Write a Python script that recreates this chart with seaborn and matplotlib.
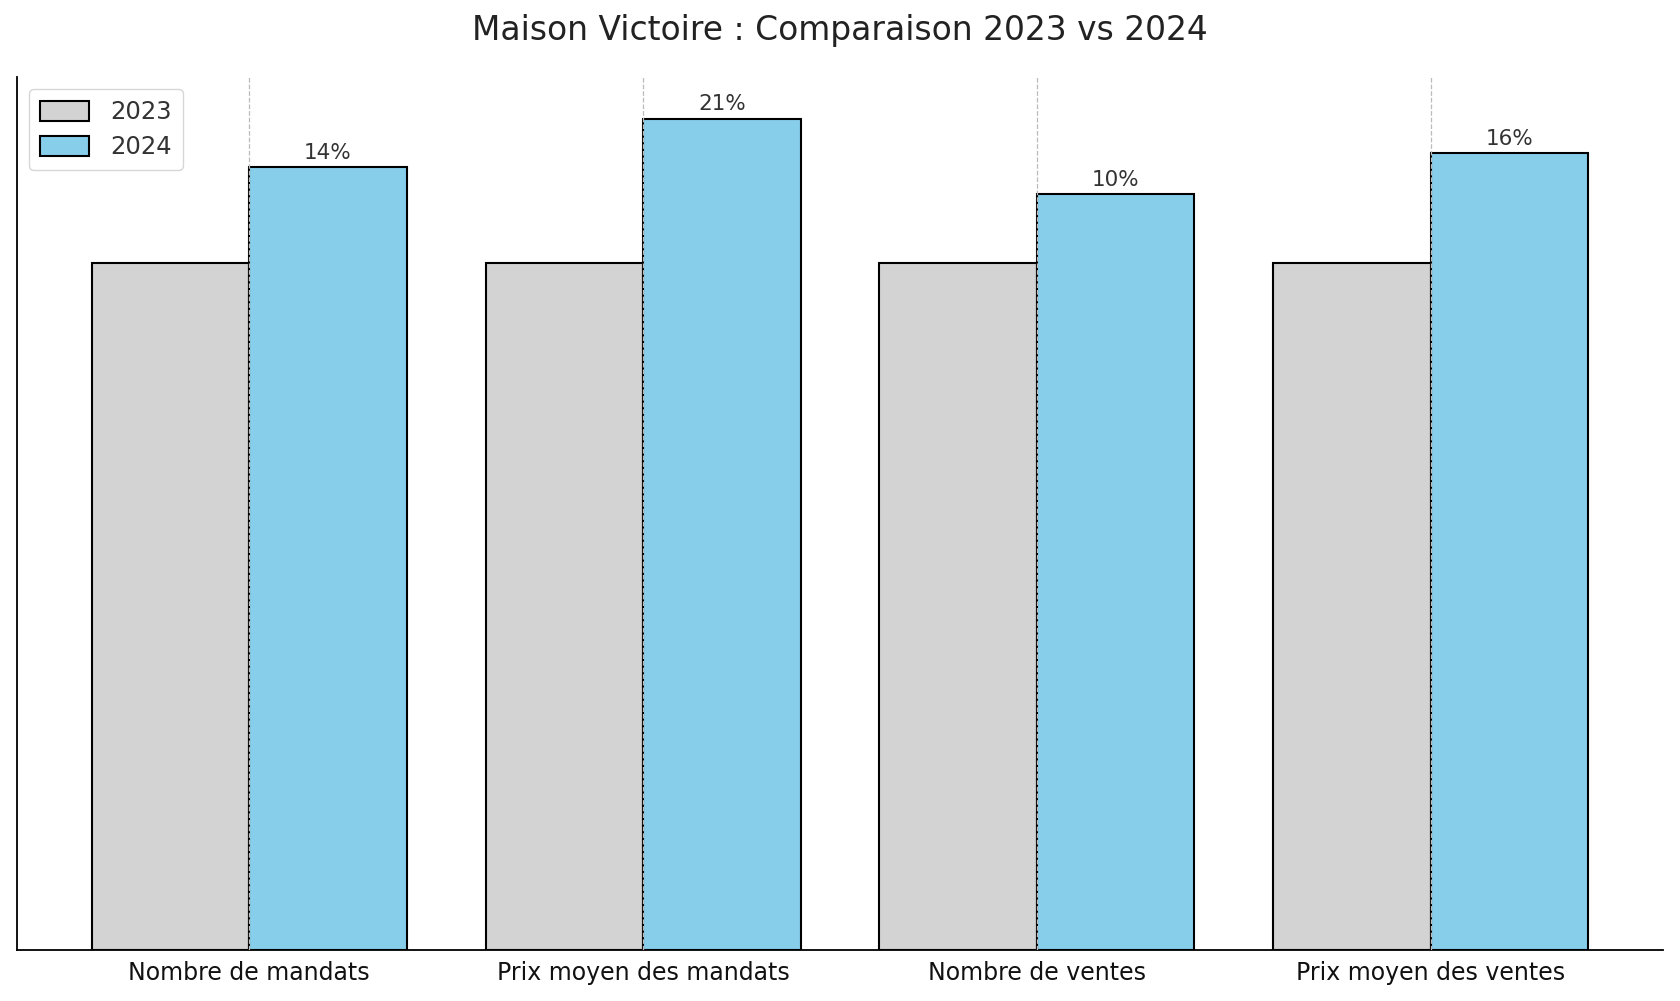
import matplotlib
matplotlib.use("Agg")
import matplotlib.pyplot as plt
import seaborn as sns
import pandas as pd

categories = ["Nombre de mandats", "Prix moyen des mandats", "Nombre de ventes", "Prix moyen des ventes"]
values_2023 = [100, 100, 100, 100]
values_2024 = [114, 121, 110, 116]
labels_pct = ["14%", "21%", "10%", "16%"]
years = ["2023", "2024"]

df = pd.DataFrame({
    "cat": categories * 2,
    "val": values_2023 + values_2024,
    "year": [years[0]] * 4 + [years[1]] * 4,
})

sns.set_style("white")
plt.rcParams['font.family'] = ['DejaVu Sans']

fig, ax = plt.subplots(figsize=(16.8, 10.01), dpi=100)
sns.barplot(data=df, x="cat", y="val", hue="year", order=categories, hue_order=years,
            palette={"2023": "lightgray", "2024": "skyblue"}, edgecolor="black",
            linewidth=1.5, width=0.8, ax=ax, errorbar=None, saturation=1)

ax.set_xlim(-0.59, 3.59)
ax.set_ylim(0, max(values_2024) * 1.05)
ax.set_yticks([])
ax.set_xlabel("")
ax.set_ylabel("")
ax.tick_params(axis="x", labelsize=17, length=0, pad=8, labelcolor="#111111")
ax.xaxis.grid(True, linestyle="--", color="#bbbbbb", linewidth=0.9)
ax.set_axisbelow(False)
for s in ["top", "right"]:
    ax.spines[s].set_visible(False)
for s in ["left", "bottom"]:
    ax.spines[s].set_color("black")
    ax.spines[s].set_linewidth(1.3)

bars24 = ax.containers[1]
for rect, lab in zip(bars24, labels_pct):
    ax.annotate(lab, (rect.get_x() + rect.get_width() / 2, rect.get_height()),
                xytext=(0, 3), textcoords="offset points", ha="center", va="bottom",
                fontsize=15.5, color="#333333")

leg = ax.legend(loc="upper left", fontsize=17.5, frameon=True, handlelength=2.0,
                handleheight=0.9, borderpad=0.45, labelspacing=0.45, handletextpad=0.9)
leg.get_frame().set_edgecolor("#cccccc")
for t in leg.get_texts():
    t.set_color("#333333")

ax.set_title("Maison Victoire : Comparaison 2023 vs 2024", fontsize=23.7, color="#222222", pad=27)

plt.subplots_adjust(left=0.010, right=0.990, bottom=0.051, top=0.923)
fig.savefig("out.png", dpi=100)
